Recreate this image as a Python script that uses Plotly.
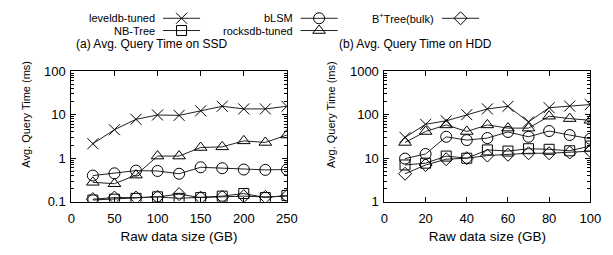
import plotly.graph_objects as go

# ---------------- data ----------------
ssd_x = [25, 50, 75, 100, 125, 150, 175, 200, 225, 250]
ssd_leveldb = [2.15, 4.5, 7.8, 9.8, 9.6, 12.2, 15.5, 13.5, 13.5, 15.5]
ssd_rocksdb = [0.28, 0.26, 0.41, 1.12, 1.12, 1.76, 1.82, 2.5, 2.3, 3.4]
ssd_blsm = [0.40, 0.45, 0.52, 0.51, 0.44, 0.62, 0.59, 0.55, 0.54, 0.55]
ssd_nbtree = [0.11, 0.115, 0.12, 0.13, 0.12, 0.125, 0.135, 0.155, 0.125, 0.14]
ssd_btree = [0.115, 0.125, 0.125, 0.13, 0.15, 0.125, 0.13, 0.135, 0.13, 0.135]

hdd_x = [10, 20, 30, 40, 50, 60, 70, 80, 90, 100]
hdd_leveldb = [30, 60, 72, 100, 135, 155, 68, 144, 157, 170]
hdd_rocksdb = [23, 41, 58, 41, 58, 49, 49, 92, 81, 74]
hdd_blsm = [9.8, 12.5, 31, 26, 29, 40, 31, 42, 34, 28]
hdd_nbtree = [7, 7.7, 11.2, 10, 15.5, 14.6, 16.5, 16, 14.8, 19]
hdd_btree = [4.4, 7.0, 9.5, 10, 11.5, 12, 13, 13, 13.5, 14.5]

series_names = ["leveldb-tuned", "NB-Tree", "bLSM", "rocksdb-tuned", "B<sup>+</sup>Tree(bulk)"]
symbols = ["x-thin-open", "square-open", "circle-open", "triangle-up-open", "diamond-open"]

ssd_x_ticks = [0, 50, 100, 150, 200, 250]
hdd_x_ticks = [0, 20, 40, 60, 80, 100]

panel_titles = ["(a) Avg. Query Time on SSD", "(b) Avg. Query Time on HDD"]
x_title = "Raw data size (GB)"
y_title = "Avg. Query Time (ms)"

W, H = 613, 255
FONT = "Liberation Sans, Arial, sans-serif"
LINE_COL = "#222222"

fig = go.Figure()

ssd_series = [ssd_leveldb, ssd_nbtree, ssd_blsm, ssd_rocksdb, ssd_btree]
hdd_series = [hdd_leveldb, hdd_nbtree, hdd_blsm, hdd_rocksdb, hdd_btree]

MSIZE = {"x-thin-open": 11, "square-open": 10, "circle-open": 11,
         "triangle-up-open": 11, "diamond-open": 10}

for name, sym, ys in zip(series_names, symbols, ssd_series):
    fig.add_trace(go.Scatter(
        x=ssd_x, y=ys, mode="lines+markers", name=name, showlegend=False,
        line=dict(color=LINE_COL, width=1),
        marker=dict(symbol=sym, size=MSIZE[sym], color="black",
                    line=dict(color="black", width=1)),
        xaxis="x", yaxis="y"))

for name, sym, ys in zip(series_names, symbols, hdd_series):
    fig.add_trace(go.Scatter(
        x=hdd_x, y=ys, mode="lines+markers", name=name, showlegend=False,
        line=dict(color=LINE_COL, width=1),
        marker=dict(symbol=sym, size=MSIZE[sym], color="black",
                    line=dict(color="black", width=1)),
        xaxis="x2", yaxis="y2"))

# ---------------- custom legend (text left of key) ----------------
leg_text_right = [157, 157, 298, 298, 443]
leg_row_y = [12, 25, 12, 25, 12]
leg_key_len = 38
for name, sym, tx, ty in zip(series_names, symbols, leg_text_right, leg_row_y):
    x0 = tx + 6
    x1 = x0 + leg_key_len
    fig.add_trace(go.Scatter(
        x=[x0, x1], y=[ty, ty], mode="lines", showlegend=False, hoverinfo="skip",
        line=dict(color=LINE_COL, width=1), xaxis="x3", yaxis="y3"))
    fig.add_trace(go.Scatter(
        x=[(x0 + x1) / 2], y=[ty], mode="markers", showlegend=False, hoverinfo="skip",
        marker=dict(symbol=sym, size=MSIZE[sym], color="black",
                    line=dict(color="black", width=1)),
        xaxis="x3", yaxis="y3"))
    fig.add_annotation(x=tx / W, y=1 - ty / H, xref="paper", yref="paper",
                       text=name, showarrow=False, xanchor="right", yanchor="middle",
                       font=dict(size=11, color="black", family=FONT))

for title, cx in zip(panel_titles, [152, 422]):
    fig.add_annotation(x=cx / W, y=1 - 39 / H, xref="paper", yref="paper",
                       text=title, showarrow=False, xanchor="center", yanchor="middle",
                       font=dict(size=12, color="black", family=FONT))

# y-axis titles (placed like the reference: shifted above plot centre)
for cx in [23, 336]:
    fig.add_annotation(x=cx / W, y=1 - 114 / H, xref="paper", yref="paper",
                       text=y_title, showarrow=False, textangle=-90,
                       xanchor="center", yanchor="middle",
                       font=dict(size=11, color="black", family=FONT))

ax_common = dict(showline=True, linecolor="black", linewidth=1, mirror="ticks",
                 ticks="inside", ticklen=5, tickcolor="black", showgrid=False,
                 zeroline=False, tickfont=dict(size=13, color="black", family=FONT))

y_top = 1 - 68 / H
y_bot = 1 - 207 / H

fig.update_layout(
    width=W, height=H,
    margin=dict(l=0, r=0, t=0, b=0),
    paper_bgcolor="white", plot_bgcolor="rgba(0,0,0,0)",
    font=dict(family=FONT, color="black", size=12),
    xaxis=dict(domain=[69 / W, 290 / W], range=[0, 250], tickmode="array",
               tickvals=ssd_x_ticks, ticklabelstandoff=5,
               title=dict(text=x_title, standoff=6,
                          font=dict(size=13.5, family=FONT)),
               anchor="y", **ax_common),
    yaxis=dict(domain=[y_bot, y_top], type="log", range=[-1, 2],
               dtick=1, exponentformat="none", ticklabelstandoff=2,
               minor=dict(ticks="inside", ticklen=3, tickcolor="black", showgrid=False),
               anchor="x", **ax_common),
    xaxis2=dict(domain=[390 / W, 601 / W], range=[0, 100], tickmode="array",
                tickvals=hdd_x_ticks, ticklabelstandoff=5,
                title=dict(text=x_title, standoff=6,
                           font=dict(size=13.5, family=FONT)),
                anchor="y2", **ax_common),
    yaxis2=dict(domain=[y_bot, y_top], type="log", range=[0, 3],
                dtick=1, exponentformat="none", ticklabelstandoff=2,
                minor=dict(ticks="inside", ticklen=3, tickcolor="black", showgrid=False),
                anchor="x2", **ax_common),
    xaxis3=dict(domain=[0, 1], range=[0, W], visible=False, fixedrange=True, anchor="y3"),
    yaxis3=dict(domain=[0, 1], range=[H, 0], visible=False, fixedrange=True, anchor="x3"),
)

fig.write_html("out.html", config={"displayModeBar": False},
               post_script="document.body.style.margin='0';document.body.style.overflow='hidden';")
